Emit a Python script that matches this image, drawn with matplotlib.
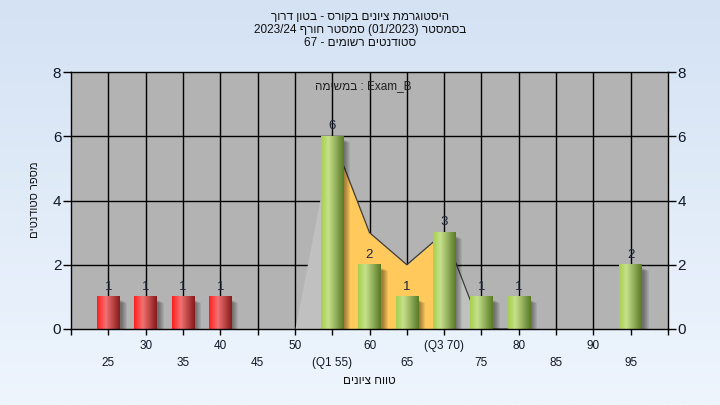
import matplotlib
matplotlib.use("Agg")
import matplotlib.pyplot as plt
import numpy as np
from matplotlib.colors import LinearSegmentedColormap

plt.rcParams['font.family'] = ['Liberation Sans', 'DejaVu Sans']

# --- data ---
grades = [25, 30, 35, 40, 55, 60, 65, 70, 75, 80, 95]
counts = [1, 1, 1, 1, 6, 2, 1, 3, 1, 1, 2]
pass_mark = 55

area_x = [50, 55, 60, 65, 70, 75, 80]
area_y = [0, 6, 3, 2, 3, 0, 0]
q1, q3 = 55, 70

row1_ticks = [30, 40, 50, 60, 70, 80, 90]
row1_labels = ['30', '40', '50', '60', '(Q3 70)', '80', '90']
row2_ticks = [25, 35, 45, 55, 65, 75, 85, 95]
row2_labels = ['25', '35', '45', '(Q1 55)', '65', '75', '85', '95']

title_lines = ['היסטוגרמת ציונים בקורס - בטון דרוך',
               'בסמסטר (01/2023) סמסטר חורף 2023/24',
               'סטודנטים רשומים - 67']
task_label = 'במשימה'
task_name = 'Exam_B'
x_title = 'טווח ציונים'
y_title = 'מספר סטודנטים'


def is_heb(w):
    return any('\u0590' <= c <= '\u05ff' for c in w)


def rtl(s):
    # matplotlib has no bidi: build the visual order by hand
    return ' '.join(w[::-1] if is_heb(w) else w for w in reversed(s.split(' ')))


fig = plt.figure(figsize=(7.2, 4.05), dpi=100)

# background gradient
bg = fig.add_axes([0, 0, 1, 1], zorder=-10)
bg_cmap = LinearSegmentedColormap.from_list('bg', ['#d4e2f4', '#eef5fd'])
bg.imshow(np.linspace(0, 1, 256).reshape(-1, 1), aspect='auto', cmap=bg_cmap,
          extent=(0, 1, 0, 1))
bg.axis('off')

ax = fig.add_axes([71 / 720, 1 - 329 / 405, 597 / 720, 257 / 405])
ax.set_facecolor('#b3b3b3')

# grid
for g in range(25, 100, 5):
    ax.axvline(g, color='black', lw=1.0, zorder=1)
for g in (2, 4, 6):
    ax.axhline(g, color='black', lw=1.0, zorder=1)

# area (orange inside IQR, light grey outside)
ax_arr = np.array(area_x, dtype=float)
ay_arr = np.array(area_y, dtype=float)
ax.fill_between(ax_arr, 0, ay_arr, color='#c0c0c0', lw=0, zorder=2)
ax.fill_between(ax_arr, 0, ay_arr, where=(ax_arr >= q1) & (ax_arr <= q3),
                color='#ffc95c', lw=0, zorder=2.1)
ax.plot(ax_arr[1:], ay_arr[1:], color='#3c3c3c', lw=0.9, zorder=2.2)

# bars with cylinder gradient and soft shadow
red_cmap = LinearSegmentedColormap.from_list(
    'r', [(0, '#ff1e1e'), (0.38, '#f27272'), (1, '#871a1a')])
green_cmap = LinearSegmentedColormap.from_list(
    'g', [(0, '#a6cf4e'), (0.32, '#c6e18c'), (1, '#5a7a26')])
grad = np.linspace(0, 1, 64).reshape(1, -1)
bw = 3.0
px_x = 80 / 597
px_y = 8 / 257
for g, c in zip(grades, counts):
    for k in range(6):
        off = (7 - k) * px_x
        ax.add_patch(plt.Rectangle((g - bw / 2 + 2 * px_x, -2 * px_y),
                                   bw + off - 2 * px_x, c - (4 - k * 0.5) * px_y,
                                   color='black', alpha=0.07, lw=0, zorder=3))
    cm = red_cmap if g < pass_mark else green_cmap
    ax.imshow(grad, extent=(g - bw / 2, g + bw / 2, 0, c), aspect='auto',
              cmap=cm, zorder=4, interpolation='bilinear')
    ax.annotate(str(c), (g, c), xytext=(0, 3), textcoords='offset points',
                ha='center', va='bottom', fontsize=9.5, color='#1c2438', zorder=5)

ax.set_xlim(20, 100)
ax.set_ylim(0, 8)

ax.text(0.49, 0.945, rtl(task_label) + ' : ' + task_name, transform=ax.transAxes,
        ha='center', va='center', fontsize=8.5, color='#202020', zorder=6)

# axes / ticks
for s in ax.spines.values():
    s.set_color('black')
    s.set_linewidth(1.0)
    s.set_zorder(7)

ax.set_yticks([0, 2, 4, 6, 8])
ax.tick_params(axis='y', which='both', direction='out', length=6, width=1,
               left=True, right=True, labelleft=True, labelright=True,
               labelsize=11, pad=1, labelcolor='#101828')

ax.set_xticks(row1_ticks + [20, 100])
ax.set_xticklabels(row1_labels + ['', ''])
ax.set_xticks(row2_ticks, minor=True)
ax.set_xticklabels(row2_labels, minor=True)
ax.tick_params(axis='x', which='major', direction='out', length=4, width=1,
               labelsize=8.5, pad=4, labelcolor='#101828')
ax.tick_params(axis='x', which='minor', direction='out', length=4, width=1,
               labelsize=8.5, pad=16, labelcolor='#101828')

# titles
for i, line in enumerate(title_lines):
    fig.text(0.5, 1 - (17 + 13 * i) / 405, rtl(line), ha='center', va='center',
             fontsize=8.5, color='#101010')
fig.text(369 / 720, 1 - 381 / 405, rtl(x_title), ha='center', va='center',
         fontsize=8.5, color='#101010')
fig.text(35 / 720, 1 - 200 / 405, rtl(y_title), ha='center', va='center',
         rotation=90, fontsize=8, color='#101010')

fig.savefig('out.png', dpi=100)
